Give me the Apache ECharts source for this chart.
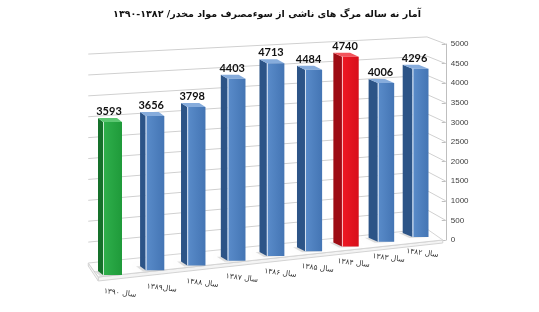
<!DOCTYPE html>
<html><head><meta charset="utf-8">
<script src="https://cdn.jsdelivr.net/npm/echarts@6/dist/echarts.min.js"></script>
<style>html,body{margin:0;padding:0;background:#fff}#c{width:539px;height:312px}</style>
</head><body><div id="c"></div>
<script>
// ---- data ----
const titleText = 'آمار نه ساله مرگ های ناشی از سوءمصرف مواد مخدر/ ۱۳۸۲-۱۳۹۰';
const categories = ['سال ۱۳۹۰','سال۱۳۸۹','سال ۱۳۸۸','سال ۱۳۸۷','سال ۱۳۸۶','سال ۱۳۸۵','سال ۱۳۸۴','سال ۱۳۸۳','سال ۱۳۸۲'];
const deaths = [3593, 3656, 3798, 4403, 4713, 4484, 4740, 4006, 4296];
const yMin = 0, yMax = 5000, yStep = 500;

// ---- styles ----
const palette = {
  blue:  {front: ['#5a8cca', '#4475b4'], side: '#2c5487', top: '#86acdc'},
  green: {front: ['#2fb04c', '#1f9a3a'], side: '#15702a', top: '#5cc772'},
  red:   {front: ['#f01824', '#d70f1a'], side: '#9e0c14', top: '#f2545c'}
};
const colorFor = {'سال ۱۳۹۰': 'green', 'سال ۱۳۸۴': 'red'};
// perspective look (layout only)
const P = {warp: 0.57, floorDrop: 35, floorRise: 4.75, h0: 1.087, hStep: 0.0109,
           w0: 19, wStep: 0.375, d0: 5, dStep: 0.6, dy: 4, axisOffset: 6};

const chart = echarts.init(document.getElementById('c'), null, {renderer: 'canvas'});

function renderWalls(params, api) {
  const cs = params.coordSys;
  const axisX = cs.x + cs.width + P.axisOffset;
  const g0 = api.coord([0, yMin])[1];
  const ah = g0 - api.coord([0, yMax])[1];
  const children = [];
  // floor
  const BL = [cs.x - 5, g0 + 23], BR = [427, g0 - 11], FR = [axisX - 3, g0], FL = [cs.x + 5, g0 + 37];
  children.push({type: 'polygon', shape: {points: [FL, FR, [FR[0], FR[1] + 3], [FL[0], FL[1] + 4]]},
    style: {fill: '#f4f4f4', stroke: '#d4d4d4', lineWidth: 1}});
  children.push({type: 'polygon', shape: {points: [BL, FL, [FL[0], FL[1] + 4], [BL[0], BL[1] + 3]]},
    style: {fill: '#f4f4f4', stroke: '#d4d4d4', lineWidth: 1}});
  children.push({type: 'polygon', shape: {points: [BL, BR, FR, FL]},
    style: {fill: '#ffffff', stroke: '#d4d4d4', lineWidth: 1}});
  for (let v = yMin; v <= yMax; v += yStep) {
    const ay = api.coord([0, v])[1];
    const t = (g0 - ay) / ah;
    const pL = [BL[0], BL[1] - t * ah * 1.066];
    const pC = [BR[0], BR[1] - t * ah * 0.98];
    const pA = [axisX, ay];
    if (v > yMin) {
      children.push({type: 'polyline', shape: {points: [pL, pC, pA]},
        style: {stroke: '#d0d0d0', lineWidth: 1, fill: null}});
    }
  }
  return {type: 'group', children};
}

function renderBar(params, api) {
  const i = api.value(0), v = api.value(1);
  const n = categories.length;
  const p0 = api.coord([i, yMin]);
  const p1 = api.coord([i, v]);
  const cx = p0[0] + P.warp * i * (n - 1 - i);
  const bottom = p0[1] + P.floorDrop - P.floorRise * i;
  const h = (p0[1] - p1[1]) * (P.h0 - P.hStep * i);
  const top = bottom - h;
  const w = P.w0 - P.wStep * i;
  const dx = P.d0 + P.dStep * i, dy = P.dy;
  const x0 = cx - w / 2, x1 = cx + w / 2;
  const c = palette[colorFor[categories[i]] || 'blue'];
  const grad = new echarts.graphic.LinearGradient(0, 0, 1, 0, [
    {offset: 0, color: c.front[0]}, {offset: 1, color: c.front[1]}]);
  return {type: 'group', children: [
    {type: 'polygon', shape: {points: [[x0 - dx - 4, bottom - dy], [x1 - dx, bottom - dy], [x1, bottom], [x0 - 3, bottom + 1]]},
      style: {fill: 'rgba(0,0,0,0.12)', shadowBlur: 4, shadowColor: 'rgba(0,0,0,0.25)'}},
    {type: 'polygon', shape: {points: [[x0 - dx, top - dy], [x0, top], [x0, bottom], [x0 - dx, bottom - dy]]},
      style: {fill: c.side}},
    {type: 'polygon', shape: {points: [[x0, top], [x1, top], [x1 - dx, top - dy], [x0 - dx, top - dy]]},
      style: {fill: c.top}},
    {type: 'rect', shape: {x: x0, y: top, width: w, height: h}, style: {fill: grad}},
    {type: 'line', shape: {x1: x0 + 0.5, y1: top, x2: x0 + 0.5, y2: bottom},
      style: {stroke: 'rgba(255,255,255,0.75)', lineWidth: 1}},
    {type: 'text', x: cx - dx / 2 - 1, y: top - dy - 1,
      style: {text: String(v), fill: '#111', font: 'bold 11px Lato', align: 'center', verticalAlign: 'bottom'}},
    {type: 'text', x: cx + 7.5 - 0.7 * i, y: bottom + 18 - 0.25 * i, rotation: -0.12,
      style: {text: categories[i], fill: '#333', font: '7.5px "DejaVu Sans"', align: 'center', verticalAlign: 'middle'}}
  ]};
}

chart.setOption({
  animation: false,
  title: {text: titleText, left: 262, textAlign: 'center', top: 5,
    textStyle: {fontFamily: 'DejaVu Sans', fontWeight: 'bold', fontSize: 9.5, color: '#111'}},
  grid: {left: 93.25, right: 99.25, top: 44, bottom: 72},
  xAxis: {type: 'category', data: categories, show: false},
  yAxis: {type: 'value', position: 'right', offset: P.axisOffset, min: yMin, max: yMax, interval: yStep,
    splitLine: {show: false},
    axisLine: {show: true, lineStyle: {color: '#bfbfbf'}},
    axisTick: {show: true, inside: true, length: 4, lineStyle: {color: '#bfbfbf'}},
    axisLabel: {margin: 5, fontSize: 8, color: '#404040', fontFamily: 'Liberation Sans',
      formatter: v => String(v)}},
  series: [
    {type: 'custom', renderItem: renderWalls, data: [[0, 0]], z: 1, silent: true},
    {type: 'custom', renderItem: renderBar, data: deaths.map((d, i) => [i, d]), z: 3}
  ]
});
</script></body></html>
